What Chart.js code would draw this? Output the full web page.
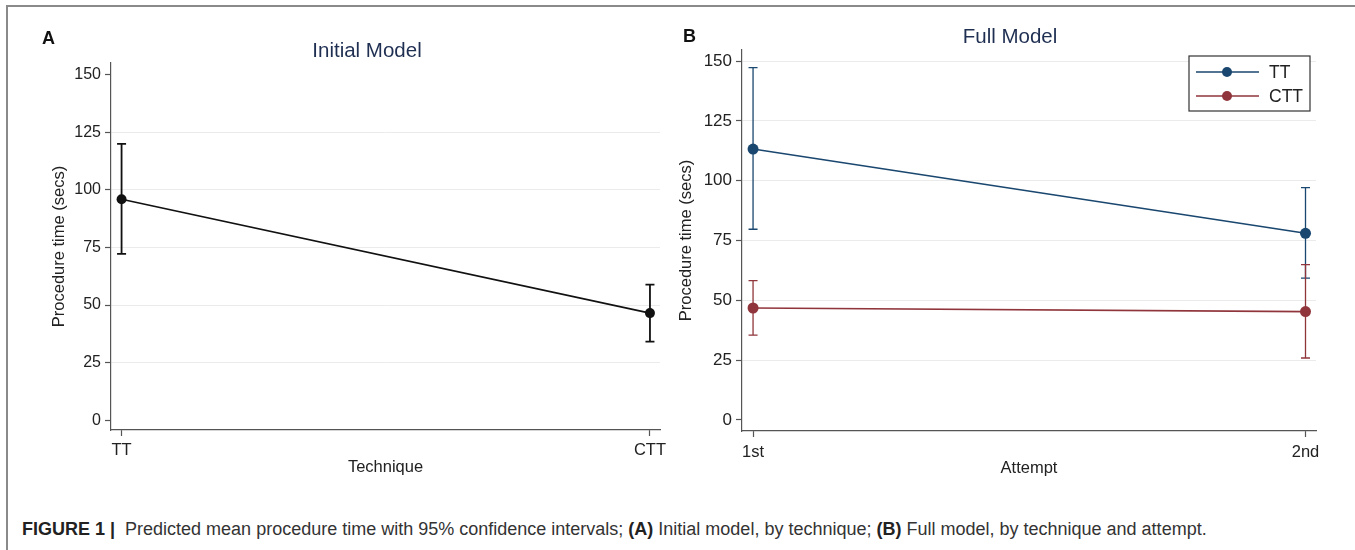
<!DOCTYPE html>
<html>
<head>
<meta charset="utf-8">
<script src="https://cdn.jsdelivr.net/npm/chart.js@4"></script>
<style>
  html, body { margin: 0; padding: 0; background: #fff; }
  body { width: 1355px; height: 550px; position: relative; overflow: hidden; font-family: "Liberation Sans", Arial, sans-serif; }
  .frame { position: absolute; left: 6px; top: 5px; width: 1400px; height: 600px; border: 2px solid #8a8a8a; }
  .panel { position: absolute; top: 0; height: 480px; }
  #panelA { left: 0; width: 675px; }
  #panelB { left: 675px; width: 680px; }
  .tag { position: absolute; font-weight: bold; font-size: 18px; color: #111; }
  .ptitle { position: absolute; font-size: 20.5px; color: #1f2f52; white-space: nowrap; transform: translate(-50%, -50%); }
  .caption { position: absolute; left: 22px; top: 519px; font-size: 18px; color: #333; white-space: nowrap; }
  .caption b { color: #222; }
</style>
</head>
<body>
<div class="frame"></div>
<div class="panel" id="panelA"><canvas id="chartA" width="675" height="480"></canvas></div>
<div class="panel" id="panelB"><canvas id="chartB" width="680" height="480"></canvas></div>
<div class="tag" style="left:42px; top:28px;">A</div>
<div class="tag" style="left:683px; top:26px;">B</div>
<div class="ptitle" style="left:367px; top:50px;">Initial Model</div>
<div class="ptitle" style="left:1010px; top:36px;">Full Model</div>
<div class="caption"><b>FIGURE 1 |</b>&nbsp; Predicted mean procedure time with 95% confidence intervals; <b>(A)</b> Initial model, by technique; <b>(B)</b> Full model, by technique and attempt.</div>

<script>
// panel A: initial model, by technique
const techniques = ["TT", "CTT"];
const meanA = [95.9, 46.5];
const lowA = [72.2, 34.1];
const highA = [119.9, 58.9];

// panel B: full model, by technique and attempt
const attempts = ["1st", "2nd"];
const meanTT = [113.2, 78.0];
const lowTT = [79.7, 59.3];
const highTT = [147.2, 97.1];
const meanCTT = [46.8, 45.3];
const lowCTT = [35.5, 25.9];
const highCTT = [58.2, 64.9];

const yTicks = [0, 25, 50, 75, 100, 125, 150];

const navy = 'rgb(26,71,111)';
const maroon = 'rgb(144,53,59)';

Chart.defaults.font.family = '"Liberation Sans", Arial, sans-serif';
Chart.defaults.color = '#222';
Chart.defaults.animation = false;

function points(vals) {
  return vals.map((v, i) => ({ x: i, y: v }));
}

// vertical 95% CI bars with caps
const errorBars = {
  id: 'errorBars',
  beforeDatasetsDraw(chart) {
    const { ctx, scales: { x, y } } = chart;
    chart.data.datasets.forEach(ds => {
      ctx.save();
      ctx.strokeStyle = ds.borderColor;
      ctx.lineWidth = ds.ciWidth || 1.5;
      ds.low.forEach((lo, i) => {
        const px = x.getPixelForValue(i);
        const y1 = y.getPixelForValue(lo);
        const y2 = y.getPixelForValue(ds.high[i]);
        ctx.beginPath();
        ctx.moveTo(px, y1); ctx.lineTo(px, y2);
        ctx.moveTo(px - 4.5, y1); ctx.lineTo(px + 4.5, y1);
        ctx.moveTo(px - 4.5, y2); ctx.lineTo(px + 4.5, y2);
        ctx.stroke();
      });
      ctx.restore();
    });
  }
};

// boxed legend in the top right corner of the plot
const boxLegend = {
  id: 'boxLegend',
  afterDraw(chart, args, opts) {
    if (!opts.show) return;
    const { ctx, chartArea } = chart;
    const w = 121, h = 55;
    const left = chartArea.right - 6 - w, top = chartArea.top + 6;
    ctx.save();
    ctx.fillStyle = '#fff';
    ctx.fillRect(left, top, w, h);
    ctx.strokeStyle = '#333';
    ctx.lineWidth = 1.2;
    ctx.strokeRect(left, top, w, h);
    chart.data.datasets.forEach((ds, i) => {
      const cy = top + 16 + i * 24;
      ctx.strokeStyle = ds.borderColor;
      ctx.lineWidth = 1.5;
      ctx.beginPath();
      ctx.moveTo(left + 7, cy); ctx.lineTo(left + 70, cy);
      ctx.stroke();
      ctx.fillStyle = ds.borderColor;
      ctx.beginPath();
      ctx.arc(left + 38, cy, 5, 0, Math.PI * 2);
      ctx.fill();
      ctx.fillStyle = '#222';
      ctx.font = '17.5px "Liberation Sans", Arial, sans-serif';
      ctx.textBaseline = 'middle';
      ctx.fillText(ds.label, left + 80, cy + 1);
    });
    ctx.restore();
  }
};

function makeOptions(cfg) {
  return {
    responsive: false,
    layout: { padding: { left: 0, right: cfg.padRight, top: cfg.padTop, bottom: 0 } },
    plugins: {
      legend: { display: false },
      tooltip: { enabled: false },
      title: { display: false },
      boxLegend: { show: cfg.legend }
    },
    scales: {
      x: {
        type: 'linear',
        min: -0.02,
        max: 1.019,
        afterBuildTicks: s => { s.ticks = cfg.cats.map((c, i) => ({ value: i })); },
        afterFit: s => { s.height = cfg.xHeight; },
        ticks: {
          callback: v => cfg.cats[v],
          font: { size: 16.5 },
          color: '#222',
          padding: cfg.xTickPad,
          maxRotation: 0
        },
        grid: { drawOnChartArea: false, drawTicks: true, tickLength: 6, tickColor: '#555', tickWidth: 1.2 },
        border: { display: true, color: '#555', width: 1.2 },
        title: {
          display: true,
          text: cfg.xTitle,
          font: { size: 16.5 },
          color: '#222',
          padding: { top: 0, bottom: cfg.xTitlePad }
        }
      },
      y: {
        min: cfg.yMin,
        max: cfg.yMax,
        afterBuildTicks: s => { s.ticks = yTicks.map(v => ({ value: v })); },
        afterFit: s => { s.width = cfg.yWidth; },
        ticks: { font: { size: cfg.yTickSize }, color: '#222', padding: 4 },
        grid: {
          color: c => (c.tick && (c.tick.value === 0 || (cfg.skipTop && c.tick.value === 150))) ? 'rgba(0,0,0,0)' : '#ebebeb',
          lineWidth: 1,
          tickLength: 6,
          tickColor: '#555',
          tickWidth: 1.2
        },
        border: { display: true, color: '#555', width: 1.2 },
        title: {
          display: true,
          text: 'Procedure time (secs)',
          font: { size: 16.5 },
          color: '#222',
          padding: { top: cfg.yTitlePad, bottom: 0 }
        }
      }
    }
  };
}

new Chart(document.getElementById('chartA'), {
  type: 'line',
  data: {
    datasets: [{
      label: 'Predicted mean',
      data: points(meanA),
      low: lowA,
      high: highA,
      ciWidth: 1.8,
      borderColor: '#111',
      backgroundColor: '#111',
      borderWidth: 1.6,
      pointRadius: 5,
      pointBorderWidth: 0,
      tension: 0
    }]
  },
  options: makeOptions({
    cats: techniques, legend: false, skipTop: true,
    padRight: 15, padTop: 63,
    xHeight: 50, xTickPad: 5, xTitle: 'Technique', xTitlePad: 3,
    yMin: -4.2, yMax: 155, yWidth: 111, yTitlePad: 50, yTickSize: 16
  }),
  plugins: [errorBars, boxLegend]
});

new Chart(document.getElementById('chartB'), {
  type: 'line',
  data: {
    datasets: [{
      label: 'TT',
      data: points(meanTT),
      low: lowTT,
      high: highTT,
      ciWidth: 1.3,
      borderColor: navy,
      backgroundColor: navy,
      borderWidth: 1.6,
      pointRadius: 5.5,
      pointBorderWidth: 0,
      tension: 0
    }, {
      label: 'CTT',
      data: points(meanCTT),
      low: lowCTT,
      high: highCTT,
      ciWidth: 1.3,
      borderColor: maroon,
      backgroundColor: maroon,
      borderWidth: 1.6,
      pointRadius: 5.5,
      pointBorderWidth: 0,
      tension: 0
    }]
  },
  options: makeOptions({
    cats: attempts, legend: true, skipTop: false,
    padRight: 39, padTop: 50,
    xHeight: 49, xTickPad: 6, xTitle: 'Attempt', xTitlePad: 2,
    yMin: -4.6, yMax: 154.6, yWidth: 67, yTitlePad: 2, yTickSize: 17
  }),
  plugins: [errorBars, boxLegend]
});
</script>
</body>
</html>
